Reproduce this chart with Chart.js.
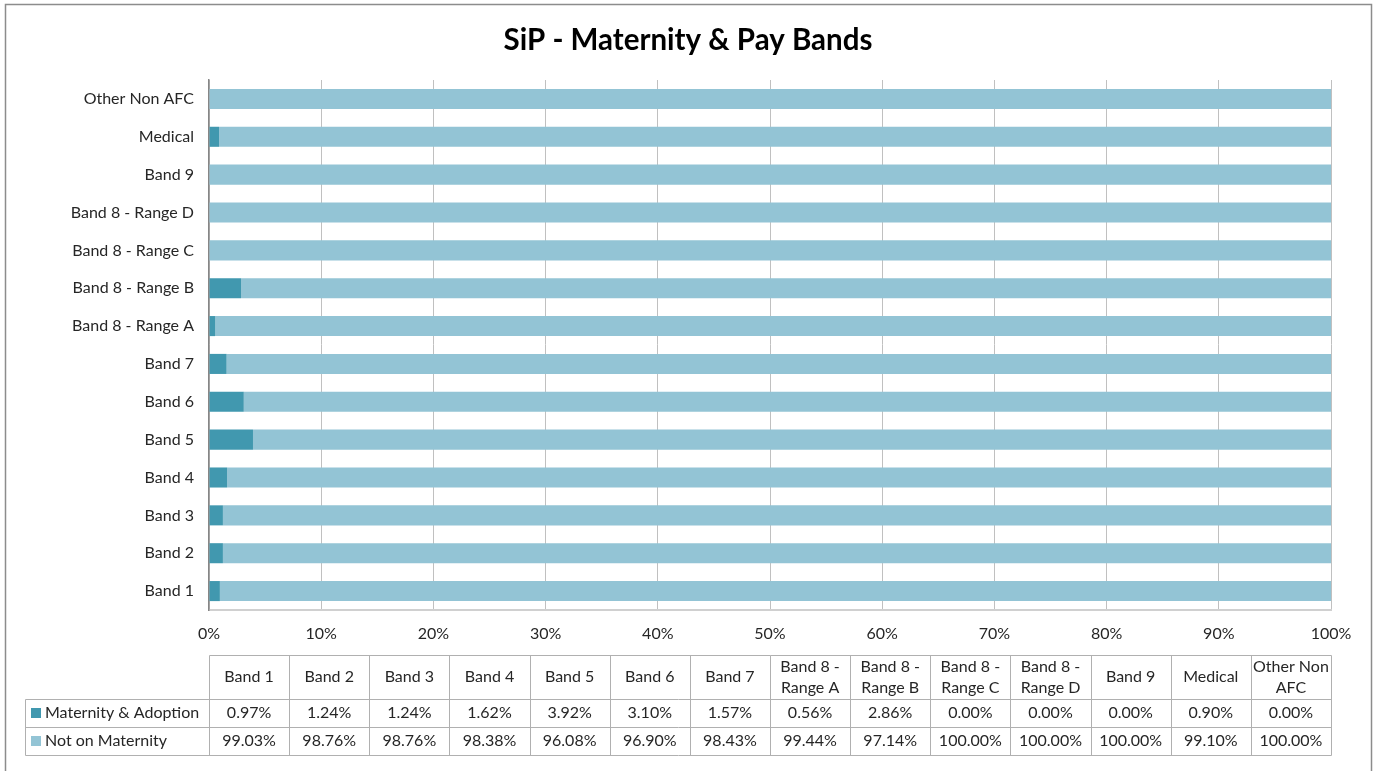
<!DOCTYPE html>
<html>
<head>
<meta charset="utf-8">
<title>SiP - Maternity & Pay Bands</title>
<script src="https://cdn.jsdelivr.net/npm/chart.js@4.4.0/dist/chart.umd.min.js"></script>
<style>
    html, body { margin: 0; padding: 0; background: #fff; }
    #wrap { width: 1379px; height: 771px; }
</style>
</head>
<body>
<div id="wrap"><canvas id="chart" width="1379" height="771"></canvas></div>
<script>
// Pay bands, bottom to top on the chart / left to right in the table
const bands = [
    'Band 1', 'Band 2', 'Band 3', 'Band 4', 'Band 5', 'Band 6', 'Band 7',
    'Band 8 - Range A', 'Band 8 - Range B', 'Band 8 - Range C', 'Band 8 - Range D',
    'Band 9', 'Medical', 'Other Non AFC'
];
const maternity = [0.97, 1.24, 1.24, 1.62, 3.92, 3.10, 1.57, 0.56, 2.86, 0.00, 0.00, 0.00, 0.90, 0.00];
const notOnMaternity = [99.03, 98.76, 98.76, 98.38, 96.08, 96.90, 98.43, 99.44, 97.14, 100.00, 100.00, 100.00, 99.10, 100.00];
const xTicks = [0, 10, 20, 30, 40, 50, 60, 70, 80, 90, 100];
const chartTitle = 'SiP - Maternity & Pay Bands';

const FONT = 'Lato, "Open Sans", sans-serif';
const COL_DARK = '#4198af';
const COL_LIGHT = '#93c4d5';
const TEXT = '#262626';

// Frame around the whole chart, title centred in the frame
const framePlugin = {
    id: 'frame',
    beforeDraw(chart) {
        const ctx = chart.ctx;
        ctx.save();
        ctx.fillStyle = '#fff';
        ctx.fillRect(0, 0, chart.width, chart.height);
        ctx.strokeStyle = '#8c8c8c';
        ctx.lineWidth = 1.5;
        ctx.strokeRect(5.5, 4.5, 1366, 800);
        ctx.fillStyle = '#000';
        ctx.font = 'bold 29.5px ' + FONT;
        ctx.textAlign = 'center';
        ctx.textBaseline = 'middle';
        ctx.fillText(chartTitle, 688, 40);
        ctx.restore();
    }
};

// Data table under the x axis, columns lined up with the plot area
const dataTablePlugin = {
    id: 'dataTable',
    afterDraw(chart) {
        const ctx = chart.ctx;
        const area = chart.chartArea;
        const n = bands.length;
        const colW = (area.right - area.left) / n;
        const legendLeft = 25;
        const rows = [655, 699, 727, 755];
        const series = [
            { name: 'Maternity & Adoption', color: COL_DARK, values: maternity },
            { name: 'Not on Maternity', color: COL_LIGHT, values: notOnMaternity }
        ];

        ctx.save();
        ctx.strokeStyle = '#b0b0b0';
        ctx.lineWidth = 1;
        const px = v => Math.round(v) + 0.5;

        // horizontal rules
        ctx.beginPath();
        ctx.moveTo(px(area.left), px(rows[0]));
        ctx.lineTo(px(area.right), px(rows[0]));
        for (let r = 1; r < rows.length; r++) {
            ctx.moveTo(px(legendLeft), px(rows[r]));
            ctx.lineTo(px(area.right), px(rows[r]));
        }
        // vertical rules
        ctx.moveTo(px(legendLeft), px(rows[1]));
        ctx.lineTo(px(legendLeft), px(rows[3]));
        for (let i = 0; i <= n; i++) {
            const x = px(area.left + i * colW);
            ctx.moveTo(x, px(rows[0]));
            ctx.lineTo(x, px(rows[3]));
        }
        ctx.stroke();

        ctx.fillStyle = TEXT;
        ctx.font = '16px ' + FONT;
        ctx.textAlign = 'center';
        ctx.textBaseline = 'middle';

        // header labels, wrapped to the column width
        bands.forEach((label, i) => {
            const cx = area.left + (i + 0.5) * colW;
            const words = label.split(' ');
            const lines = [];
            let line = '';
            words.forEach(w => {
                const test = line ? line + ' ' + w : w;
                if (ctx.measureText(test).width > colW - 4 && line) {
                    lines.push(line);
                    line = w;
                } else {
                    line = test;
                }
            });
            lines.push(line);
            const midY = (rows[0] + rows[1]) / 2;
            const lh = 21;
            lines.forEach((l, k) => {
                ctx.fillText(l, cx, midY + (k - (lines.length - 1) / 2) * lh);
            });
        });

        // series rows
        series.forEach((s, r) => {
            const midY = (rows[r + 1] + rows[r + 2]) / 2;
            ctx.fillStyle = s.color;
            ctx.fillRect(legendLeft + 6, Math.round(midY) - 5, 10, 10);
            ctx.fillStyle = TEXT;
            ctx.textAlign = 'left';
            ctx.fillText(s.name, legendLeft + 20, midY);
            ctx.textAlign = 'center';
            s.values.forEach((v, i) => {
                ctx.fillText(v.toFixed(2) + '%', area.left + (i + 0.5) * colW, midY);
            });
        });
        ctx.restore();
    }
};

new Chart(document.getElementById('chart'), {
    type: 'bar',
    data: {
        labels: bands,
        datasets: [
            {
                label: 'Maternity & Adoption',
                data: maternity,
                backgroundColor: COL_DARK,
                borderWidth: 0
            },
            {
                label: 'Not on Maternity',
                data: notOnMaternity,
                backgroundColor: COL_LIGHT,
                borderWidth: 0
            }
        ]
    },
    options: {
        indexAxis: 'y',
        responsive: false,
        animation: false,
        devicePixelRatio: 1,
        datasets: {
            bar: { categoryPercentage: 1, barPercentage: 0.53 }
        },
        layout: { padding: { left: 5, right: 48, top: 80, bottom: 116 } },
        plugins: {
            legend: { display: false },
            tooltip: { enabled: false },
            title: { display: false }
        },
        scales: {
            x: {
                stacked: true,
                min: 0,
                max: 100,
                afterBuildTicks(scale) {
                    scale.ticks = xTicks.map(v => ({ value: v }));
                },
                afterFit(scale) { scale.height = 45; },
                grid: { color: '#c0c0c0', drawTicks: false },
                border: { display: true, color: '#d0d0d0', width: 2 },
                ticks: {
                    padding: 14,
                    color: TEXT,
                    font: { family: FONT, size: 16 },
                    callback: v => v + '%'
                }
            },
            y: {
                stacked: true,
                reverse: true,
                afterFit(scale) { scale.width = 204; },
                grid: { display: false, drawTicks: false },
                border: { display: true, color: '#868686', width: 1.5 },
                ticks: {
                    padding: 15,
                    color: TEXT,
                    font: { family: FONT, size: 16 }
                }
            }
        }
    },
    plugins: [framePlugin, dataTablePlugin]
});
</script>
</body>
</html>
